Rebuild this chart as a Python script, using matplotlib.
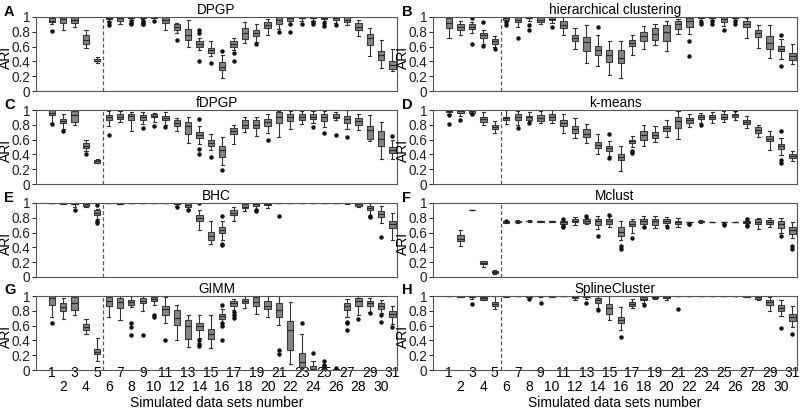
import numpy as np
import matplotlib
matplotlib.use('Agg')
import matplotlib.pyplot as plt

plt.rcParams['font.family'] = ['Liberation Sans', 'DejaVu Sans']

# ---------------- data: (whisker_low, q1, median, q3, whisker_high) per simulated set 1..31
sets = list(range(1, 32))
odd_labels = [str(s) for s in sets if s % 2 == 1]
even_labels = [str(s) for s in sets if s % 2 == 0]
y_ticks = [0, 0.2, 0.4, 0.6, 0.8, 1.0]
y_ticklabels = ['0', '0.2', '0.4', '0.6', '0.8', '1']

dpgp = [(0.90,0.93,0.95,0.98,1.00),(0.83,0.92,0.97,1.00,1.00),(0.87,0.92,0.96,1.00,1.00),
        (0.58,0.63,0.69,0.75,0.83),(0.38,0.40,0.41,0.43,0.46),(0.95,0.97,0.99,1.00,1.00),
        (0.90,0.95,0.98,1.00,1.00),(0.96,0.98,0.99,1.00,1.00),(0.97,0.99,1.00,1.00,1.00),
        (0.98,0.99,1.00,1.00,1.00),(0.83,0.92,0.96,1.00,1.00),(0.78,0.82,0.86,0.90,0.92),
        (0.59,0.69,0.76,0.84,0.96),(0.55,0.60,0.63,0.67,0.71),(0.47,0.51,0.55,0.58,0.67),
        (0.18,0.28,0.33,0.39,0.49),(0.55,0.59,0.64,0.67,0.72),(0.65,0.70,0.79,0.85,0.93),
        (0.66,0.74,0.79,0.82,0.91),(0.76,0.85,0.89,0.93,0.97),(0.84,0.90,0.96,1.00,1.00),
        (0.91,0.95,0.98,1.00,1.00),(0.95,0.98,0.99,1.00,1.00),(0.95,0.98,0.99,1.00,1.00),
        (0.95,0.97,0.99,1.00,1.00),(0.92,0.96,0.98,1.00,1.00),(0.89,0.93,0.96,1.00,1.00),
        (0.74,0.82,0.87,0.92,0.96),(0.47,0.62,0.71,0.77,0.85),(0.31,0.42,0.48,0.54,0.69),
        (0.27,0.30,0.35,0.41,0.57)]
dpgp_out = {1:[0.81], 6:[0.93,0.89], 8:[0.94,0.92,0.90], 9:[0.95,0.93,0.91,0.90], 10:[0.94],
            12:[0.69], 14:[0.83,0.79,0.41], 15:[0.38], 16:[0.54], 17:[0.51,0.41], 19:[0.64],
            21:[0.80], 22:[0.90,0.80], 23:[0.91], 24:[0.93,0.90], 25:[0.92,0.88], 26:[0.89]}

hc = [(0.72,0.85,0.92,0.98,1.00),(0.76,0.83,0.86,0.90,0.95),(0.79,0.84,0.87,0.90,0.93),
      (0.63,0.71,0.75,0.79,0.83),(0.59,0.64,0.67,0.70,0.74),(0.95,0.96,0.98,1.00,1.00),
      (0.87,0.93,0.96,1.00,1.00),(0.95,0.98,0.99,1.00,1.00),(0.90,0.93,0.96,1.00,1.00),
      (0.92,0.96,0.97,1.00,1.00),(0.76,0.85,0.89,0.94,1.00),(0.57,0.67,0.72,0.76,0.85),
      (0.38,0.54,0.66,0.73,0.89),(0.34,0.48,0.55,0.61,0.75),(0.21,0.39,0.48,0.55,0.67),
      (0.17,0.38,0.44,0.55,0.67),(0.49,0.61,0.65,0.69,0.76),(0.57,0.68,0.74,0.80,0.88),
      (0.62,0.69,0.77,0.85,0.91),(0.54,0.68,0.80,0.89,0.95),(0.77,0.84,0.90,0.94,0.97),
      (0.77,0.86,0.94,0.98,1.00),(0.96,0.98,0.99,1.00,1.00),(0.96,0.98,0.99,1.00,1.00),
      (0.88,0.93,0.97,1.00,1.00),(0.96,0.98,0.99,1.00,1.00),(0.72,0.86,0.91,0.94,0.98),
      (0.58,0.73,0.78,0.83,0.89),(0.44,0.57,0.65,0.74,0.89),(0.43,0.54,0.57,0.61,0.70),
      (0.36,0.42,0.47,0.52,0.63)]
hc_out = {3:[0.99,0.64], 4:[0.93,0.61], 5:[0.57], 6:[0.93,0.89], 7:[0.72], 8:[0.89,0.82],
          10:[0.86], 14:[0.87], 22:[0.67,0.47], 23:[0.93,0.91], 24:[0.94,0.91], 25:[0.82],
          26:[0.94,0.91], 30:[0.75,0.34]}

fdpgp = [(0.83,0.93,0.96,1.00,1.00),(0.74,0.82,0.85,0.88,0.94),(0.80,0.84,0.93,0.98,1.00),
         (0.45,0.48,0.52,0.55,0.59),(0.28,0.29,0.31,0.32,0.34),(0.79,0.86,0.90,0.93,0.98),
         (0.84,0.88,0.91,0.94,0.98),(0.71,0.86,0.92,0.95,0.97),(0.81,0.87,0.90,0.93,0.97),
         (0.84,0.90,0.92,0.94,0.96),(0.80,0.86,0.89,0.92,0.97),(0.71,0.78,0.82,0.86,0.89),
         (0.56,0.67,0.78,0.84,0.90),(0.54,0.62,0.66,0.70,0.79),(0.46,0.52,0.56,0.60,0.68),
         (0.26,0.37,0.46,0.51,0.64),(0.54,0.67,0.71,0.76,0.80),(0.70,0.76,0.80,0.86,0.90),
         (0.65,0.75,0.80,0.86,0.90),(0.69,0.78,0.84,0.88,0.95),(0.63,0.82,0.90,0.97,0.98),
         (0.74,0.85,0.90,0.95,0.98),(0.81,0.87,0.91,0.95,0.98),(0.83,0.88,0.91,0.95,0.98),
         (0.77,0.85,0.90,0.95,0.99),(0.86,0.89,0.91,0.94,0.97),(0.74,0.82,0.88,0.92,1.00),
         (0.73,0.80,0.85,0.89,0.95),(0.58,0.61,0.73,0.78,0.93),(0.34,0.52,0.61,0.71,0.84),
         (0.34,0.42,0.46,0.50,0.59)]
fdpgp_out = {1:[0.81], 2:[0.71], 4:[0.40], 6:[0.66], 9:[0.76], 10:[0.79], 11:[0.77],
             14:[0.88,0.47,0.41], 15:[0.37], 16:[0.19], 20:[0.60], 24:[0.77], 25:[0.69],
             26:[0.66], 27:[0.64], 31:[0.65]}

kmeans = [(0.94,0.97,0.99,1.00,1.00),(0.92,0.96,0.98,1.00,1.00),(0.95,0.96,0.98,1.00,1.00),
          (0.80,0.84,0.88,0.91,0.97),(0.69,0.74,0.77,0.80,0.85),(0.81,0.86,0.89,0.91,1.00),
          (0.80,0.87,0.91,0.94,0.99),(0.85,0.87,0.90,0.92,0.97),(0.82,0.85,0.89,0.93,0.98),
          (0.82,0.86,0.90,0.94,1.00),(0.69,0.78,0.82,0.87,0.94),(0.62,0.69,0.74,0.79,0.89),
          (0.55,0.64,0.68,0.74,0.81),(0.40,0.49,0.53,0.57,0.67),(0.38,0.44,0.48,0.51,0.58),
          (0.18,0.33,0.37,0.41,0.51),(0.50,0.55,0.58,0.60,0.65),(0.52,0.60,0.66,0.72,0.80),
          (0.57,0.62,0.66,0.70,0.78),(0.64,0.71,0.75,0.79,0.86),(0.61,0.76,0.85,0.90,0.98),
          (0.77,0.82,0.86,0.89,0.94),(0.82,0.88,0.90,0.93,0.96),(0.83,0.88,0.91,0.93,0.97),
          (0.84,0.88,0.91,0.94,0.99),(0.87,0.91,0.93,0.95,0.99),(0.76,0.81,0.84,0.86,0.92),
          (0.64,0.69,0.73,0.77,0.80),(0.46,0.58,0.61,0.65,0.72),(0.39,0.47,0.51,0.54,0.62),
          (0.31,0.35,0.38,0.41,0.45)]
kmeans_out = {1:[0.93,0.81], 2:[0.86], 3:[0.95], 7:[0.75], 8:[0.83], 15:[0.68,0.35],
              17:[0.44,0.42], 23:[0.80], 26:[1.00], 30:[0.71,0.32,0.28]}

bhc = [(1.00,1.00,1.00,1.00,1.00),(0.98,0.99,1.00,1.00,1.00),(0.95,0.98,0.99,1.00,1.00),
       (0.94,0.96,0.98,0.99,1.00),(0.78,0.84,0.87,0.90,0.92),(1.00,1.00,1.00,1.00,1.00),
       (0.98,0.99,0.99,1.00,1.00),(1.00,1.00,1.00,1.00,1.00),(1.00,1.00,1.00,1.00,1.00),
       (1.00,1.00,1.00,1.00,1.00),(1.00,1.00,1.00,1.00,1.00),(0.96,0.98,0.99,1.00,1.00),
       (0.92,0.95,0.97,1.00,1.00),(0.63,0.75,0.80,0.84,0.90),(0.45,0.50,0.56,0.61,0.75),
       (0.50,0.60,0.64,0.68,0.75),(0.76,0.84,0.87,0.91,0.95),(0.89,0.93,0.95,0.98,1.00),
       (0.92,0.96,0.98,1.00,1.00),(0.93,0.97,0.99,1.00,1.00),(1.00,1.00,1.00,1.00,1.00),
       (1.00,1.00,1.00,1.00,1.00),(1.00,1.00,1.00,1.00,1.00),(1.00,1.00,1.00,1.00,1.00),
       (1.00,1.00,1.00,1.00,1.00),(1.00,1.00,1.00,1.00,1.00),(0.99,1.00,1.00,1.00,1.00),
       (0.94,0.96,0.98,1.00,1.00),(0.83,0.90,0.93,0.96,1.00),(0.73,0.81,0.85,0.89,0.96),
       (0.50,0.66,0.71,0.76,0.86)]
bhc_out = {3:[0.90], 5:[0.97,0.76,0.73], 12:[0.94], 13:[0.90], 14:[1.00], 16:[0.82,0.45,0.43],
           19:[0.90,0.89], 21:[0.82], 29:[0.81,0.82], 30:[0.54]}

mclust = [None,(0.42,0.48,0.52,0.57,0.64),(0.90,0.90,0.90,0.90,0.90),
          (0.14,0.18,0.19,0.21,0.22),(0.04,0.06,0.07,0.08,0.09),(0.73,0.73,0.74,0.76,0.76),
          (0.73,0.74,0.74,0.75,0.77),(0.74,0.75,0.75,0.75,0.77),(0.74,0.74,0.75,0.75,0.75),
          (0.74,0.74,0.75,0.75,0.76),(0.72,0.72,0.74,0.76,0.76),(0.70,0.74,0.76,0.78,0.81),
          (0.71,0.73,0.75,0.78,0.80),(0.65,0.70,0.75,0.79,0.82),(0.68,0.72,0.76,0.79,0.82),
          (0.50,0.56,0.61,0.67,0.76),(0.60,0.69,0.72,0.76,0.79),(0.68,0.72,0.75,0.78,0.82),
          (0.66,0.70,0.75,0.79,0.82),(0.70,0.73,0.75,0.78,0.81),(0.67,0.72,0.74,0.76,0.80),
          (0.74,0.74,0.74,0.74,0.74),(0.73,0.74,0.75,0.75,0.77),(0.74,0.74,0.74,0.74,0.74),
          (0.74,0.74,0.74,0.74,0.74),(0.74,0.74,0.74,0.74,0.74),(0.73,0.73,0.74,0.76,0.76),
          (0.65,0.71,0.74,0.78,0.80),(0.67,0.72,0.74,0.77,0.80),(0.60,0.66,0.71,0.75,0.80),
          (0.53,0.58,0.63,0.68,0.74)]
mclust_out = {6:[0.75], 11:[0.78,0.69,0.67], 13:[0.83], 14:[0.55], 15:[0.84], 16:[0.42,0.38],
              17:[0.53], 18:[0.67], 20:[0.67], 22:[0.72,0.71], 25:[0.71,0.70],
              27:[0.78,0.70,0.69], 30:[0.55], 31:[0.42,0.38]}

gimm = [(0.71,0.88,0.97,1.00,1.00),(0.69,0.80,0.85,0.90,0.97),(0.74,0.81,0.90,0.98,1.00),
        (0.49,0.54,0.58,0.62,0.69),(0.12,0.21,0.25,0.29,0.43),(0.72,0.86,0.93,0.98,1.00),
        (0.67,0.84,0.92,0.97,1.00),(0.85,0.88,0.92,0.95,1.00),(0.80,0.90,0.93,0.97,1.00),
        (0.88,0.93,0.96,0.98,1.00),(0.64,0.74,0.82,0.87,0.98),(0.41,0.61,0.70,0.81,0.88),
        (0.31,0.42,0.60,0.67,0.74),(0.43,0.54,0.59,0.63,0.74),(0.30,0.42,0.48,0.56,0.75),
        (0.60,0.69,0.73,0.76,0.83),(0.81,0.87,0.90,0.93,0.96),(0.84,0.90,0.93,0.96,1.00),
        (0.76,0.86,0.92,0.98,1.00),(0.72,0.82,0.87,0.93,1.00),(0.61,0.71,0.81,0.91,1.00),
        (0.08,0.27,0.54,0.66,0.92),(0.00,0.04,0.11,0.23,0.48),(0.00,0.00,0.01,0.05,0.12),
        (0.00,0.00,0.00,0.02,0.03),(0.00,0.00,0.00,0.01,0.01),(0.71,0.81,0.86,0.91,0.96),
        (0.74,0.87,0.93,0.97,1.00),(0.79,0.86,0.90,0.93,0.97),(0.77,0.83,0.87,0.90,0.94),
        (0.62,0.71,0.76,0.80,0.86)]
gimm_out = {1:[0.63], 8:[0.63,0.58,0.47], 9:[0.47], 10:[0.75,0.71], 11:[0.41],
            14:[0.40,0.35,0.33], 16:[0.88,0.64,0.60,0.41], 17:[0.78,0.75,0.70], 21:[0.27,0.22],
            23:[0.64], 24:[0.23], 25:[0.12,0.07,0.05], 26:[0.03], 27:[0.65,0.63,0.54],
            28:[0.69], 29:[0.77], 30:[0.75,0.65], 31:[0.58]}

spline = [(1.00,1.00,1.00,1.00,1.00),(0.98,0.99,1.00,1.00,1.00),(0.96,0.98,0.99,1.00,1.00),
          (0.94,0.95,0.97,0.99,1.00),(0.82,0.86,0.89,0.92,1.00),(0.98,0.99,1.00,1.00,1.00),
          (1.00,1.00,1.00,1.00,1.00),(0.97,0.98,0.99,1.00,1.00),(0.99,1.00,1.00,1.00,1.00),
          (0.98,0.99,1.00,1.00,1.00),(1.00,1.00,1.00,1.00,1.00),(0.94,0.97,0.98,1.00,1.00),
          (0.96,0.98,0.99,1.00,1.00),(0.84,0.91,0.94,0.97,1.00),(0.68,0.76,0.84,0.89,1.00),
          (0.54,0.64,0.68,0.72,0.85),(0.84,0.86,0.89,0.92,0.96),(0.91,0.94,0.96,0.98,1.00),
          (0.96,0.97,0.99,1.00,1.00),(0.95,0.97,0.99,1.00,1.00),(1.00,1.00,1.00,1.00,1.00),
          (1.00,1.00,1.00,1.00,1.00),(1.00,1.00,1.00,1.00,1.00),(1.00,1.00,1.00,1.00,1.00),
          (1.00,1.00,1.00,1.00,1.00),(1.00,1.00,1.00,1.00,1.00),(0.98,0.99,1.00,1.00,1.00),
          (0.95,0.96,0.98,0.99,1.00),(0.80,0.88,0.92,0.95,0.98),(0.73,0.80,0.84,0.88,0.95),
          (0.58,0.66,0.71,0.76,0.87)]
spline_out = {3:[0.89], 8:[0.96], 9:[0.91], 13:[0.90], 14:[0.81], 16:[0.44], 18:[0.88],
              21:[0.82], 30:[0.57], 31:[0.49]}

letters = ['A', 'B', 'C', 'D', 'E', 'F', 'G', 'H']
titles = ['DPGP', 'hierarchical clustering', 'fDPGP', 'k-means', 'BHC', 'Mclust',
          'GIMM', 'SplineCluster']
panel_data = [(dpgp, dpgp_out), (hc, hc_out), (fdpgp, fdpgp_out), (kmeans, kmeans_out),
              (bhc, bhc_out), (mclust, mclust_out), (gimm, gimm_out), (spline, spline_out)]

# ---------------- figure
W, H = 800, 411
fig = plt.figure(figsize=(W / 100, H / 100), dpi=100)

col_left = [36, 433]
col_width = [361, 364]
row_top = [17, 110, 203, 296]
row_h = 74

def bxp_stats(boxes, outs):
    st, pos = [], []
    for i, b in enumerate(boxes):
        if b is None:
            continue
        lo, q1, med, q3, hi = b
        st.append(dict(whislo=lo, q1=q1, med=med, q3=q3, whishi=hi,
                       fliers=np.array(outs.get(i + 1, []))))
        pos.append(sets[i])
    return st, pos

edge = '#3c3c3c'
for k in range(8):
    r, c = divmod(k, 2)
    l = col_left[c] / W
    w = col_width[c] / W
    b = 1 - (row_top[r] + row_h) / H
    h = row_h / H
    ax = fig.add_axes([l, b, w, h])
    boxes, outs = panel_data[k]
    st, pos = bxp_stats(boxes, outs)
    ax.bxp(st, positions=pos, widths=0.55, patch_artist=True, showfliers=True,
           boxprops=dict(facecolor='#858585', edgecolor=edge, linewidth=0.8),
           medianprops=dict(color='#2a2a2a', linewidth=0.9),
           whiskerprops=dict(color='#333333', linewidth=0.8),
           capprops=dict(color='#333333', linewidth=0.8),
           flierprops=dict(marker='o', markerfacecolor='#111111', markeredgecolor='#111111',
                           markersize=2.2, linestyle='none'))
    ax.axvline(5.5, color='#555555', linestyle=(0, (3, 2)), linewidth=0.9)
    ax.set_xlim(-0.4, 31.4)
    ax.set_ylim(0, 1.0)
    ax.set_yticks(y_ticks)
    ax.set_yticklabels(y_ticklabels, fontsize=9.8)
    ax.tick_params(axis='y', length=3, width=0.7, pad=1, colors='#222222')
    ax.set_ylabel('ARI', fontsize=10)
    ax.yaxis.set_label_coords(-23 / col_width[c], 0.45)
    ax.set_title(titles[k], fontsize=9.8, pad=2)
    for sp in ax.spines.values():
        sp.set_color('#555555')
        sp.set_linewidth(0.8)
    if r == 3:
        ax.set_xticks([s for s in sets if s % 2 == 1])
        ax.set_xticklabels(odd_labels, fontsize=10)
        ax.set_xticks([s for s in sets if s % 2 == 0], minor=True)
        ax.set_xticklabels(even_labels, minor=True, fontsize=10)
        ax.tick_params(axis='x', which='major', length=0, pad=-3)
        ax.tick_params(axis='x', which='minor', length=0, pad=7.5)
        ax.set_xlabel('Simulated data sets number', fontsize=10)
        ax.xaxis.set_label_coords(0.5, -26 / row_h)
    else:
        ax.set_xticks([])
    lx = (4 if c == 0 else 402) / W
    fig.text(lx, 1 - (row_top[r] + 1.5) / H, letters[k], fontsize=10.5, fontweight='bold',
             ha='left', va='bottom')

fig.savefig('out.png', dpi=100)
